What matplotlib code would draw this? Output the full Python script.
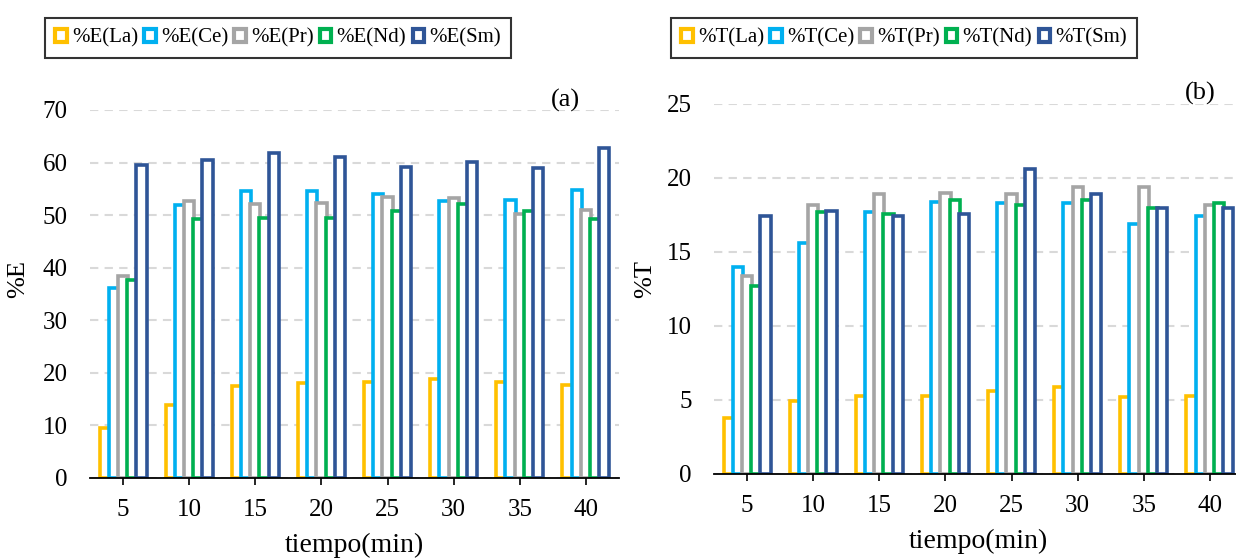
import numpy as np
import matplotlib
matplotlib.use("Agg")
import matplotlib.pyplot as plt
from matplotlib.patches import Patch

plt.rcParams['font.family'] = ['Liberation Serif', 'DejaVu Serif']

# --- data ---
tiempo = [5, 10, 15, 20, 25, 30, 35, 40]
elementos = ['La', 'Ce', 'Pr', 'Nd', 'Sm']

E_La = [9.6, 13.9, 17.5, 18.0, 18.2, 18.8, 18.2, 17.6]
E_Ce = [36.1, 51.9, 54.5, 54.5, 54.0, 52.7, 52.8, 54.8]
E_Pr = [38.5, 52.6, 52.1, 52.4, 53.5, 53.2, 50.2, 50.9]
E_Nd = [37.7, 49.3, 49.4, 49.4, 50.7, 52.1, 50.7, 49.2]
E_Sm = [59.5, 60.5, 61.8, 61.1, 59.2, 60.2, 59.0, 62.7]

T_La = [3.8, 4.9, 5.3, 5.3, 5.6, 5.9, 5.2, 5.3]
T_Ce = [14.0, 15.6, 17.7, 18.4, 18.3, 18.3, 16.9, 17.4]
T_Pr = [13.4, 18.2, 18.9, 19.0, 18.9, 19.4, 19.4, 18.2]
T_Nd = [12.7, 17.7, 17.6, 18.5, 18.2, 18.5, 18.0, 18.3]
T_Sm = [17.4, 17.8, 17.4, 17.6, 20.6, 18.9, 18.0, 17.95]

colores = ['#FFC000', '#00B0F0', '#A5A5A5', '#00B050', '#2F5597']

fig = plt.figure(figsize=(12.36, 5.59), dpi=100)


def panel(rect, series, prefijo, ymax, ystep, letra, letra_xy, leg_xy, ylab_x):
    ax = fig.add_axes(rect)
    x = np.arange(len(tiempo))
    paso = 0.139
    ancho = 0.155
    for k, (vals, c) in enumerate(zip(series, colores)):
        ax.bar(x + (k - 2) * paso, vals, width=ancho, facecolor='white',
               edgecolor=c, linewidth=2.6, zorder=2 + k)
    ax.set_xlim(-0.5, len(tiempo) - 0.5)
    ax.set_ylim(0, ymax)
    ax.set_yticks(np.arange(0, ymax + 0.1, ystep))
    ax.set_xticks(x)
    ax.set_xticklabels([str(t) for t in tiempo])
    ax.grid(axis='y', color='#d9d9d9', linestyle=(0, (4, 3)), linewidth=1.5, zorder=0)
    ax.set_axisbelow(True)
    for s in ['top', 'right', 'left']:
        ax.spines[s].set_visible(False)
    ax.spines['bottom'].set_color('black')
    ax.spines['bottom'].set_linewidth(1.3)
    ax.spines['bottom'].set_zorder(10)
    ax.tick_params(axis='y', length=0, pad=16, labelsize=18)
    ax.tick_params(axis='x', length=5, width=1.2, direction='out', pad=10, labelsize=18)
    ax.set_xlabel('tiempo(min)', fontsize=20, labelpad=9)
    ax.set_ylabel('%' + prefijo, fontsize=19)
    ax.yaxis.set_label_coords(ylab_x, 0.5, transform=fig.transFigure)
    fig.text(letra_xy[0], letra_xy[1], letra, fontsize=19, ha='center', va='center')

    handles = [Patch(facecolor='white', edgecolor=c, linewidth=3) for c in colores]
    labels = [f'%{prefijo}({e})' for e in elementos]
    leg = fig.legend(handles, labels, loc='center', bbox_to_anchor=leg_xy, ncol=5,
                     fontsize=15, frameon=True, fancybox=False, edgecolor='black',
                     handlelength=0.55, handleheight=0.55, handletextpad=0.25,
                     columnspacing=0.3, borderpad=0.5, borderaxespad=0)
    leg.get_frame().set_linewidth(1.5)
    return ax


# panel (a): %E
panel([90 / 1236, 1 - 478 / 559, 529 / 1236, 368 / 559],
      [E_La, E_Ce, E_Pr, E_Nd, E_Sm], 'E', 70, 10, '(a)',
      (565 / 1236, 1 - 100 / 559), (278 / 1236, 1 - 38 / 559), 29 / 1236)

# panel (b): %T
panel([714 / 1236, 1 - 474 / 559, 529 / 1236, 370 / 559],
      [T_La, T_Ce, T_Pr, T_Nd, T_Sm], 'T', 25, 5, '(b)',
      (1200 / 1236, 1 - 93 / 559), (904 / 1236, 1 - 38 / 559), 656 / 1236)

fig.savefig('out.png', dpi=100)
